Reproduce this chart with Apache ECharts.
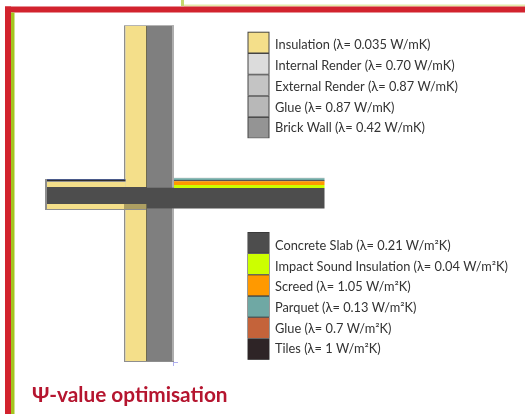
<!DOCTYPE html>
<html>
<head>
<meta charset="utf-8">
<style>
html, body { margin: 0; padding: 0; background: #fff; }
#main { width: 525px; height: 414px; }
</style>
<script src="https://cdn.jsdelivr.net/npm/echarts@6/dist/echarts.min.js"></script>
</head>
<body>
<div id="main"></div>
<script>
// legend rows
var wallNames = ['Insulation', 'Internal Render', 'External Render', 'Glue', 'Brick Wall'];
var wallLambda = ['0.035', '0.70', '0.87', '0.87', '0.42'];
var floorNames = ['Concrete Slab', 'Impact Sound Insulation', 'Screed', 'Parquet', 'Glue', 'Tiles'];
var floorLambda = ['0.21', '0.04', '1.05', '0.13', '0.7', '1'];

// layer thickness in the section, left to right / top to bottom
var wallLayers = ['Internal Render', 'Insulation', 'Glue', 'Brick Wall', 'External Render'];
var wallThickness = [1.5, 20.5, 1, 25, 2];
var rightFloorLayers = ['Glue', 'Parquet', 'Tiles', 'Screed', 'Impact Sound Insulation', 'Concrete Slab'];
var rightFloorThickness = [0.5, 2, 1, 3.7, 3, 20.5];
var leftFloorLayers = ['Tiles', 'Glue', 'Internal Render', 'Insulation', 'Concrete Slab', 'Insulation', 'Internal Render'];
var leftFloorThickness = [1, 1, 1, 5, 17, 5, 1];

var colors = {
  'Insulation': '#f4df8a',
  'Internal Render': '#8e8e8e',
  'External Render': '#adadad',
  'Glue': '#6e6a50',
  'Brick Wall': '#7f7f7f',
  'Concrete Slab': '#4d4d4d',
  'Impact Sound Insulation': '#ccff00',
  'Screed': '#ff9900',
  'Parquet': '#6fa8a4',
  'Tiles': '#2e2426'
};
var wallSwatches = ['#f4df8a', '#dcdcdc', '#c4c4c4', '#b8b8b8', '#949494'];
var floorSwatches = ['#4d4d4d', '#ccff00', '#ff9900', '#6fa8a4', '#c4633a', '#2e2426'];

var rects = [];
function addRect(x0, y0, x1, y1, color) {
  rects.push([x0, y0, x1, y1, color]);
}

// wall
var x = 124;
wallLayers.forEach(function (name, i) {
  addRect(x, 25, x + wallThickness[i], 362, colors[name]);
  x += wallThickness[i];
});
addRect(124, 25, 174, 26, '#b4b4b4');
addRect(124, 361, 174, 362, '#8e8e8e');

// floor, right of the wall
var y = 177.7;
rightFloorLayers.forEach(function (name, i) {
  var c = i == 0 ? '#c8c8c8' : colors[name];
  addRect(174, y, 324.5, y + rightFloorThickness[i], c);
  y += rightFloorThickness[i];
});
addRect(147, 187.7, 174, 208.4, colors['Concrete Slab']);

// floor, left of the wall
y = 179;
leftFloorLayers.forEach(function (name, i) {
  var end = name == 'Concrete Slab' ? 147 : (i > 4 ? 146 : 125.5);
  var c = name == 'Tiles' ? '#4a5a8a' : (name == 'Glue' ? '#33302c' : colors[name]);
  addRect(45.5, y, end, y + leftFloorThickness[i], c);
  y += leftFloorThickness[i];
});
addRect(45, 179, 47, 210, '#8e8e8e');
addRect(124, 204, 146, 209, '#ad9f62');

// legend swatches
wallSwatches.forEach(function (c, i) {
  addRect(247.5, 31.7 + i * 21.3, 269.5, 31.7 + (i + 1) * 21.3, '#444444');
  addRect(248.5, 32.7 + i * 21.3, 268.5, 31.7 + (i + 1) * 21.3 - 0.5, c);
});
floorSwatches.forEach(function (c, i) {
  addRect(247.5, 232 + i * 21.3, 269.5, 232 + (i + 1) * 21.3, '#333333');
  addRect(248, 232.7 + i * 21.3, 269, 232 + (i + 1) * 21.3 - 0.5, c);
});

var labels = [];
wallNames.forEach(function (n, i) {
  labels.push([275, 45 + i * 20.8, n + ' (λ= ' + wallLambda[i] + ' W/mK)']);
});
floorNames.forEach(function (n, i) {
  labels.push([275, 246 + i * 20.6, n + ' (λ= ' + floorLambda[i] + ' W/m²K)']);
});

var myChart = echarts.init(document.getElementById('main'));
myChart.setOption({
  animation: false,
  title: {
    text: 'Ψ-value optimisation',
    left: 27,
    top: 380,
    textStyle: { fontFamily: 'Lato', fontWeight: 'bold', fontSize: 20.8, color: '#b5152f' }
  },
  grid: { left: 0, right: 0, top: 0, bottom: 0 },
  xAxis: { type: 'value', min: 0, max: 525, show: false },
  yAxis: { type: 'value', min: 0, max: 414, inverse: true, show: false },
  graphic: [
    { type: 'rect', shape: { x: 181, y: 0, width: 3, height: 6 }, style: { fill: '#c5d86d' } },
    { type: 'rect', shape: { x: 184, y: 4.5, width: 341, height: 2 }, style: { fill: '#e3eaaa' } },
    { type: 'rect', shape: { x: 5, y: 6.5, width: 520, height: 6 }, style: { fill: '#d2232e' } },
    { type: 'rect', shape: { x: 5, y: 6.5, width: 6, height: 408 }, style: { fill: '#d2232e' } },
    { type: 'rect', shape: { x: 11, y: 12.5, width: 3.5, height: 402 }, style: { fill: '#a4c520' } },
    { type: 'rect', shape: { x: 173, y: 361, width: 1, height: 5 }, style: { fill: '#b0b0f0' } },
    { type: 'rect', shape: { x: 173, y: 362, width: 5, height: 1 }, style: { fill: '#b0b0f0' } }
  ],
  series: [
    {
      type: 'custom',
      coordinateSystem: 'cartesian2d',
      data: rects,
      silent: true,
      renderItem: function (params, api) {
        var p0 = api.coord([api.value(0), api.value(1)]);
        var p1 = api.coord([api.value(2), api.value(3)]);
        return {
          type: 'rect',
          shape: { x: p0[0], y: p0[1], width: p1[0] - p0[0], height: p1[1] - p0[1] },
          style: { fill: rects[params.dataIndex][4] }
        };
      }
    },
    {
      type: 'custom',
      coordinateSystem: 'cartesian2d',
      data: labels,
      silent: true,
      renderItem: function (params, api) {
        var p = api.coord([api.value(0), api.value(1)]);
        return {
          type: 'text',
          x: p[0],
          y: p[1],
          style: {
            text: labels[params.dataIndex][2],
            fontFamily: 'Lato',
            fontSize: 12.8,
            fill: '#333333',
            verticalAlign: 'middle',
            align: 'left'
          }
        };
      }
    }
  ]
});
</script>
</body>
</html>
